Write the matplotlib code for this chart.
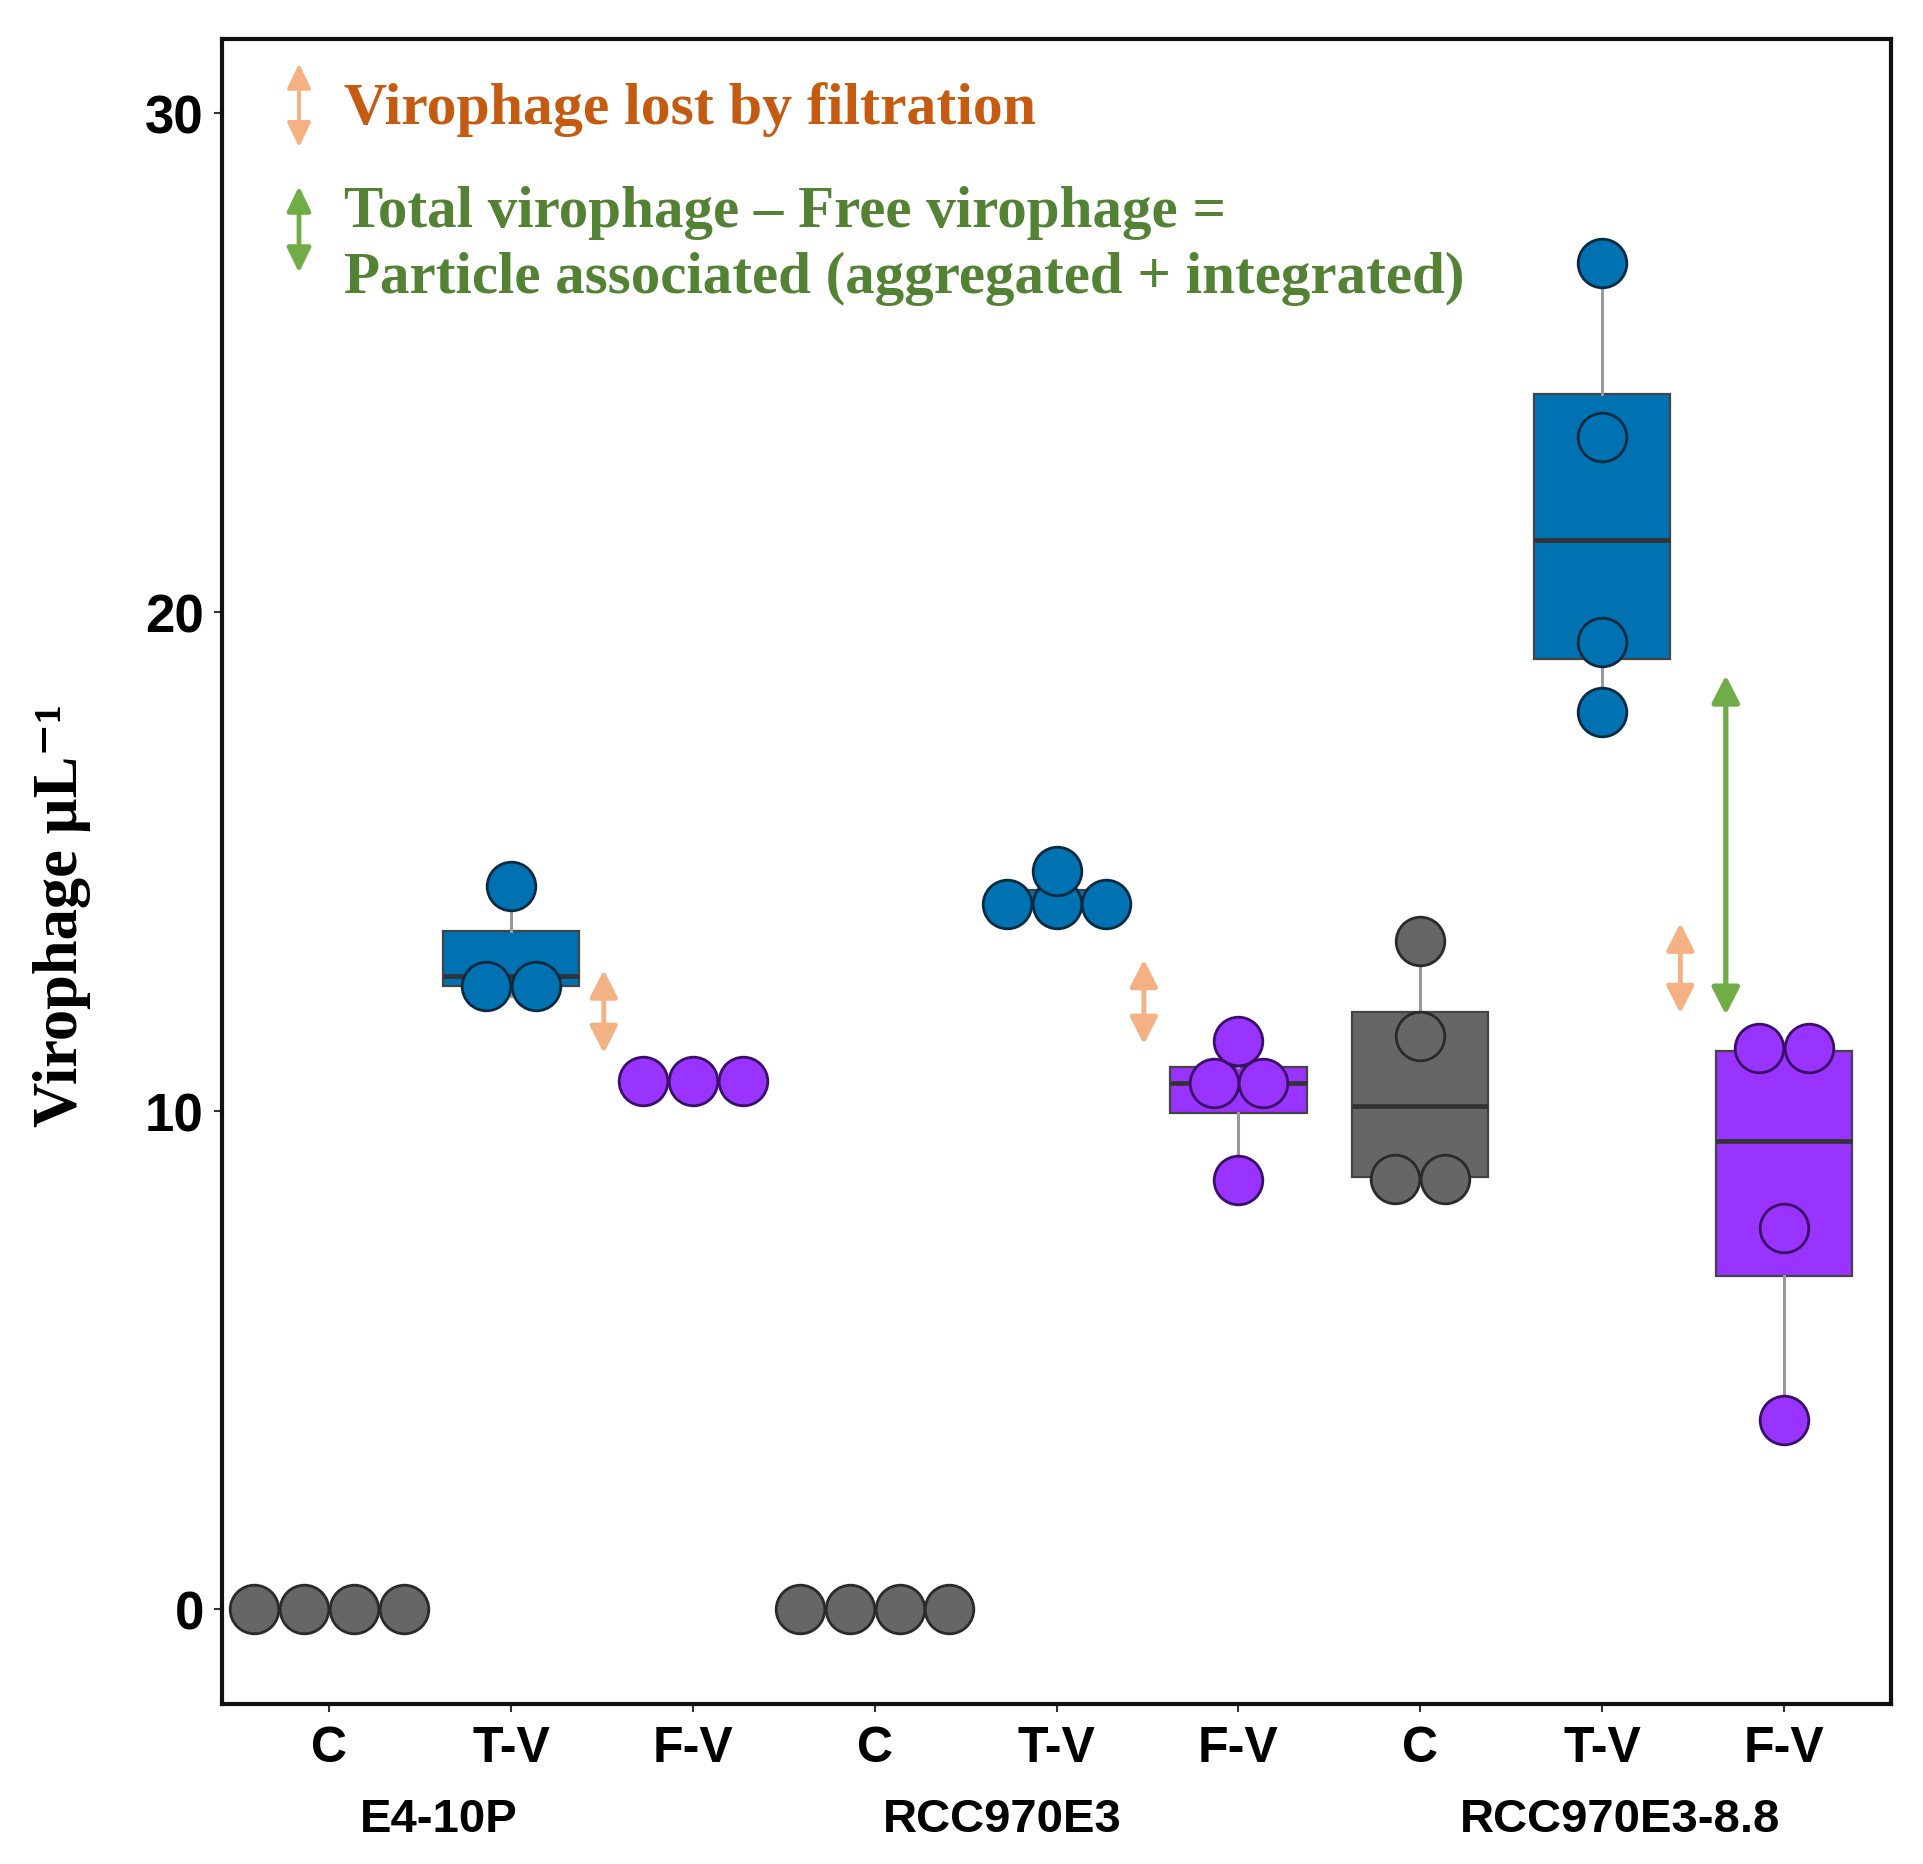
import numpy as np
import matplotlib
matplotlib.use("Agg")
import matplotlib.pyplot as plt
from matplotlib.transforms import blended_transform_factory

# ---------------- data ----------------
group_names = ["E4-10P", "RCC970E3", "RCC970E3-8.8"]
treatments = ["C", "T-V", "F-V"]

e4_c = [0.0, 0.0, 0.0, 0.0]
e4_tv = [12.3, 12.7, 14.5]
e4_fv = [10.6, 10.6, 10.6]
rcc_c = [0.0, 0.0, 0.0, 0.0]
rcc_tv = [14.0, 14.05, 14.3, 14.8]
rcc_fv = [8.6, 10.4, 10.7, 11.4]
r88_c = [8.55, 8.7, 11.5, 13.4]
r88_tv = [18.0, 19.4, 23.5, 27.0]
r88_fv = [3.8, 7.65, 11.15, 11.35]

series = [e4_c, e4_tv, e4_fv, rcc_c, rcc_tv, rcc_fv, r88_c, r88_tv, r88_fv]
tick_labels = treatments * 3

# "lost by filtration" arrows (between T-V and F-V) and particle-associated arrow
lost_x = [2.51, 5.48, 8.43]
lost_top = [12.82, 13.03, 13.76]
lost_bottom = [11.15, 11.33, 11.95]
assoc_x = [8.68]
assoc_top = [18.73]
assoc_bottom = [11.92]

legend_lost = "Virophage lost by filtration"
legend_assoc = ["Total virophage \u2013 Free virophage =",
                "Particle associated (aggregated + integrated)"]

# ---------------- style ----------------
fill_colors = {"C": "#666666", "T-V": "#0072B2", "F-V": "#9933FF"}
dot_edges = {"C": "#2a2a2a", "T-V": "#0b2a40", "F-V": "#3a0f66"}
orange_arrow = "#F4B183"
green_arrow = "#70AD47"
orange_text = "#C55A11"
green_text = "#548235"

serif = ["Liberation Serif", "DejaVu Serif"]
sans = ["Liberation Sans", "DejaVu Sans"]

fig = plt.figure(figsize=(19.23, 18.65), dpi=100)
ax = fig.add_axes([0.1154, 0.0858, 0.9835 - 0.1154, 0.9788 - 0.0858])

positions = np.arange(1, len(series) + 1)

bp = ax.boxplot(series, positions=positions, widths=0.75, patch_artist=True,
                whis=1.5, showfliers=False, showcaps=False,
                medianprops=dict(color="#333333", lw=3.4),
                whiskerprops=dict(color="#9a9a9a", lw=2.2),
                boxprops=dict(edgecolor="#444444", lw=1.6))
for patch, lab in zip(bp["boxes"], tick_labels):
    patch.set_facecolor(fill_colors[lab])
    patch.set_zorder(2)
for m in bp["medians"]:
    m.set_zorder(2.5)


def dot_bins(values, binwidth=0.45):
    vals = sorted(values)
    bins = []
    cur = [vals[0]]
    for v in vals[1:]:
        if v - cur[0] < binwidth:
            cur.append(v)
        else:
            bins.append(cur)
            cur = [v]
    bins.append(cur)
    return [((b[0] + b[-1]) / 2.0, len(b)) for b in bins]


dot_step = 0.274
for pos, vals, lab in zip(positions, series, tick_labels):
    for yc, n in dot_bins(vals):
        xs = pos + (np.arange(n) - (n - 1) / 2.0) * dot_step
        ax.plot(xs, [yc] * n, linestyle="none", marker="o", markersize=35,
                markerfacecolor=fill_colors[lab], markeredgecolor=dot_edges[lab],
                markeredgewidth=2.0, zorder=3)

arrow_kw = dict(arrowstyle="<|-|>,head_length=0.55,head_width=0.28",
                mutation_scale=30, shrinkA=0, shrinkB=0)
for x, t, b in zip(lost_x, lost_top, lost_bottom):
    ax.annotate("", xy=(x, t), xytext=(x, b),
                arrowprops=dict(color=orange_arrow, lw=3.5, **arrow_kw), zorder=4)
for x, t, b in zip(assoc_x, assoc_top, assoc_bottom):
    ax.annotate("", xy=(x, t), xytext=(x, b),
                arrowprops=dict(color=green_arrow, lw=3.8, **arrow_kw), zorder=4)

# legend-like annotation block
legend_kw = dict(arrowstyle="<|-|>,head_length=0.5,head_width=0.24",
                 mutation_scale=30, shrinkA=0, shrinkB=0)
ax.annotate("", xy=(0.834, 31.0), xytext=(0.834, 29.32),
            arrowprops=dict(color=orange_arrow, lw=2.8, **legend_kw))
ax.annotate("", xy=(0.834, 28.54), xytext=(0.834, 26.8),
            arrowprops=dict(color=green_arrow, lw=3.4, **legend_kw))
ax.text(1.08, 30.1, legend_lost, color=orange_text, fontsize=43,
        fontweight="bold", family=serif, va="center", ha="left")
ax.text(1.08, 28.03, legend_assoc[0], color=green_text, fontsize=42.5,
        fontweight="bold", family=serif, va="center", ha="left")
ax.text(1.08, 26.69, legend_assoc[1], color=green_text, fontsize=42.5,
        fontweight="bold", family=serif, va="center", ha="left")

# axes
ax.set_xlim(0.41, 9.59)
ax.set_ylim(-1.9, 31.5)
ax.set_yticks([0, 10, 20, 30])
ax.set_yticklabels(["0", "10", "20", "30"])
ax.set_xticks(positions)
ax.set_xticklabels(tick_labels)
for lbl in ax.get_yticklabels():
    lbl.set_family(sans)
    lbl.set_fontweight("bold")
    lbl.set_fontsize(38)
for lbl in ax.get_xticklabels():
    lbl.set_family(sans)
    lbl.set_fontweight("bold")
    lbl.set_fontsize(36)
ax.tick_params(axis="y", length=6, width=1.5, color="#333333", pad=7)
ax.tick_params(axis="x", length=6, width=1.5, color="#333333", pad=9)
for sp in ax.spines.values():
    sp.set_linewidth(3)
    sp.set_color("#111111")

trans = blended_transform_factory(ax.transData, ax.transAxes)
for name, xc in zip(group_names, [1.6, 4.7, 8.1]):
    ax.text(xc, -0.069, name, transform=trans, ha="center", va="center",
            fontsize=34, fontweight="bold", family=sans)

fig.text(62 / 1923, 1 - 915 / 1865, "Virophage \u00b5L\u207b\u00b9", rotation=90,
         ha="center", va="center", fontsize=45, fontweight="bold", family=serif)

fig.savefig("out.png", dpi=100, facecolor="white")
